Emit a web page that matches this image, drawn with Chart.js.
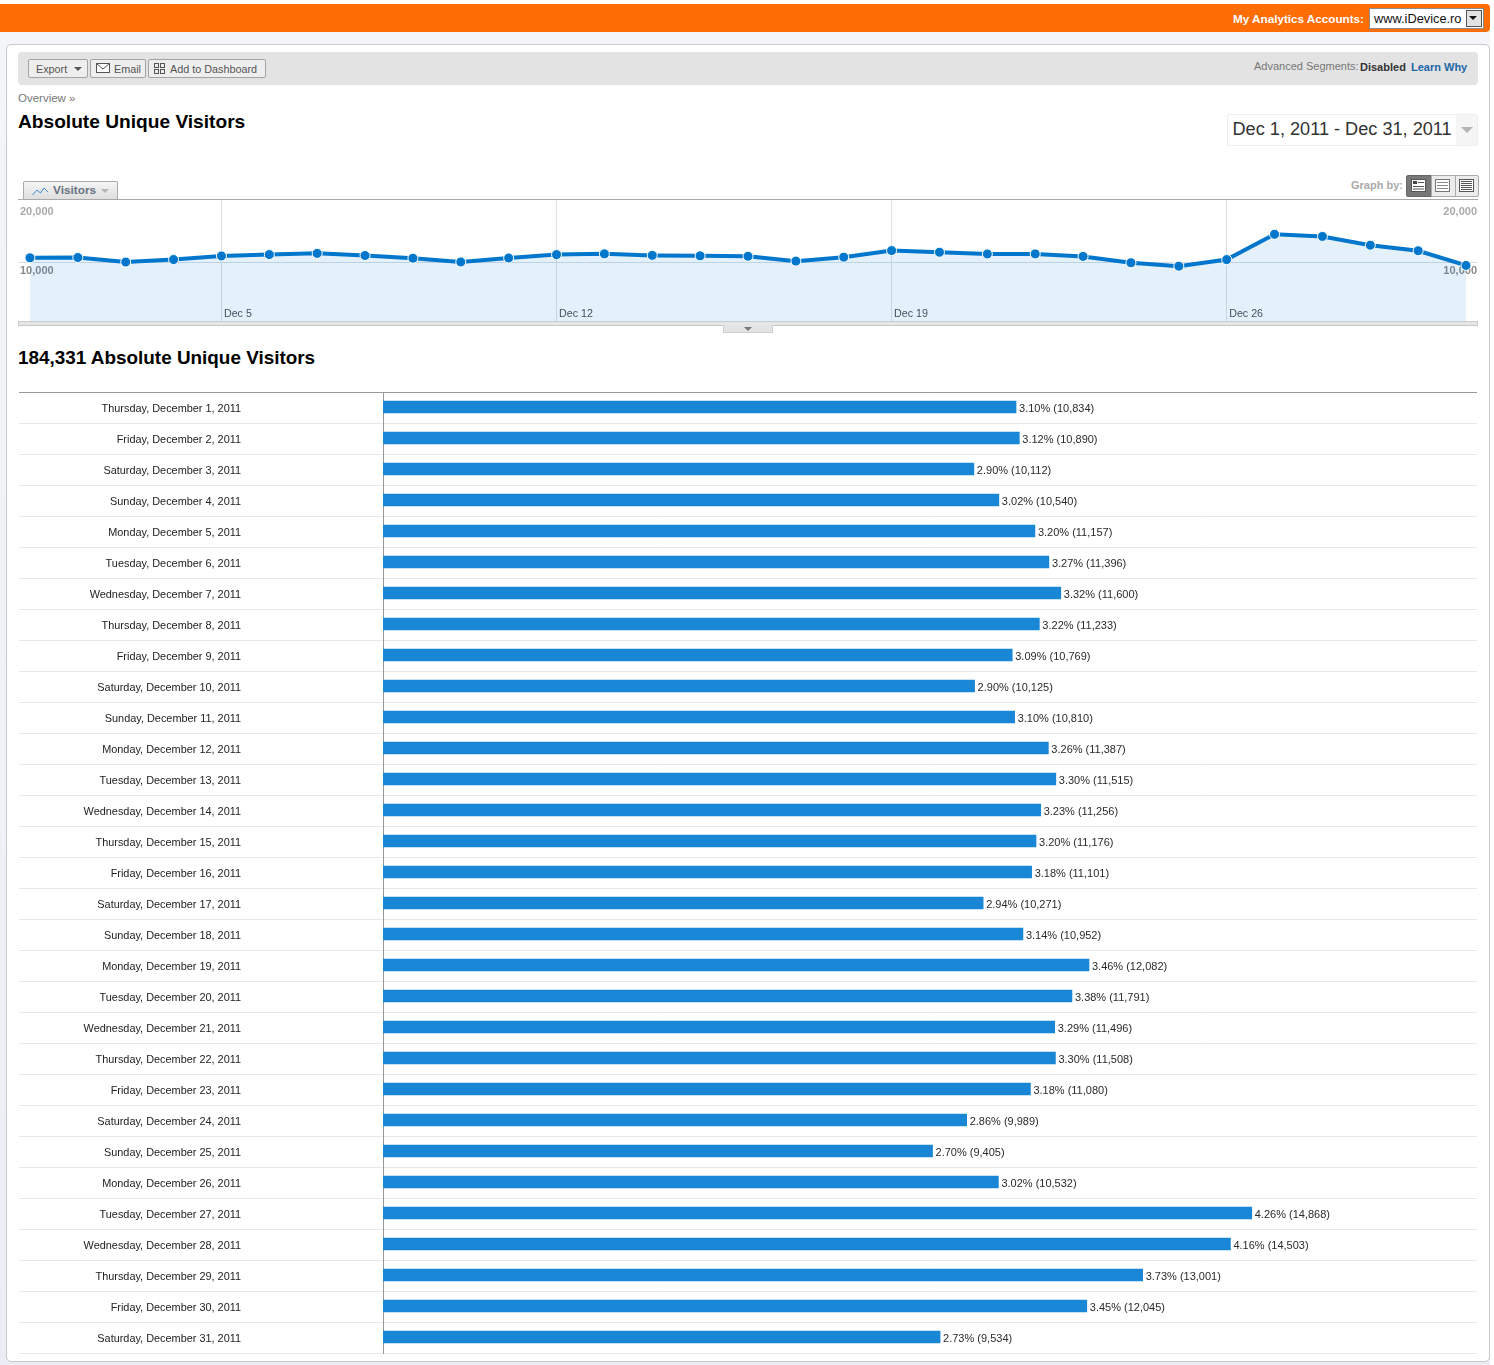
<!DOCTYPE html>
<html>
<head>
<meta charset="utf-8">
<title>Absolute Unique Visitors</title>
<script src="https://cdn.jsdelivr.net/npm/chart.js@4/dist/chart.umd.min.js"></script>
<style>
  html, body { margin: 0; padding: 0; }
  body { position: relative; width: 1494px; height: 1365px; overflow: hidden; background: #fff;
         font-family: "Liberation Sans", Arial, sans-serif; }
  .abs { position: absolute; white-space: nowrap; }
  canvas { position: absolute; display: block; }
  #backdrop { left: 0; top: 32px; width: 1490px; height: 1333px;
              background: linear-gradient(#f4f5f8, #eaeef4); }
  #topbar { left: 0; top: 4px; width: 1490px; height: 28px; background: #ff6d05; border-radius: 0 4px 4px 0; }
  #card { left: 6px; top: 44px; width: 1482px; height: 1316px; background: #fff;
          border: 1px solid #c6c8cc; border-radius: 5px; }
  #toolbar { left: 18px; top: 52px; width: 1460px; height: 33px; background: #e3e3e3; border-radius: 4px; }
  .btn { top: 59px; height: 17px; border: 1px solid #a3a3a3; border-radius: 2px; background: #eeeeee;
         font-size: 10.8px; line-height: 19px; color: #555; box-sizing: content-box; }
  .arrow { width: 0; height: 0; border-left: 4px solid transparent; border-right: 4px solid transparent; }
  #handle { left: 723px; top: 325px; width: 48px; height: 7px; background: #e4e4e4;
            border: 1px solid #cfcfcf; border-top: 0; }
  #axisband { left: 18px; top: 321px; width: 1458px; height: 3px; background: #e6e6e6;
              border: 1px solid #c8c8c8; border-top-color: #cccccc; }
</style>
</head>
<body>
<div class="abs" id="backdrop"></div>
<div class="abs" id="topbar"></div>
<div class="abs" style="right:130px;top:12px;font-size:11.7px;font-weight:bold;color:#fff;line-height:14px;">My Analytics Accounts:</div>
<div class="abs" style="left:1369px;top:8px;width:113px;height:19px;background:#fff;border:1px solid #8a8a8a;"></div>
<div class="abs" style="left:1374px;top:10px;font-size:12.8px;line-height:17px;color:#111;">www.iDevice.ro</div>
<div class="abs" style="left:1466px;top:10px;width:14px;height:15px;background:#e2e2e2;border:1px solid #555;"></div>
<div class="abs arrow" style="left:1469px;top:16px;border-top:4px solid #111;"></div>

<div class="abs" id="card"></div>
<div class="abs" id="toolbar"></div>

<div class="abs btn" style="left:28px;width:58px;"><span style="margin-left:7px;">Export</span></div>
<div class="abs arrow" style="left:74px;top:67px;border-top:4px solid #555;"></div>
<div class="abs btn" style="left:90px;width:54px;"><span style="margin-left:23px;">Email</span></div>
<svg class="abs" style="left:96px;top:63px;" width="14" height="10"><rect x="0.5" y="0.5" width="13" height="9" fill="#fff" stroke="#555"/><path d="M1 1 L7 6 L13 1" fill="none" stroke="#555"/></svg>
<div class="abs btn" style="left:148px;width:116px;"><span style="margin-left:21px;">Add to Dashboard</span></div>
<svg class="abs" style="left:154px;top:63px;" width="11" height="11"><g fill="none" stroke="#555"><rect x="0.5" y="0.5" width="4" height="4"/><rect x="6.5" y="0.5" width="4" height="4"/><rect x="0.5" y="6.5" width="4" height="4"/><rect x="6.5" y="6.5" width="4" height="4"/></g></svg>

<div class="abs" style="left:1254px;top:60px;font-size:11px;line-height:13px;color:#777;">Advanced Segments:</div>
<div class="abs" style="left:1360px;top:61px;font-size:11px;line-height:13px;font-weight:bold;color:#333;">Disabled</div>
<div class="abs" style="left:1411px;top:61px;font-size:11px;line-height:13px;font-weight:bold;color:#1b66a8;">Learn Why</div>

<div class="abs" style="left:18px;top:92px;font-size:11.5px;line-height:13px;color:#777;">Overview »</div>
<div class="abs" style="left:18px;top:110px;font-size:19.15px;line-height:23px;font-weight:bold;color:#000;">Absolute Unique Visitors</div>

<div class="abs" style="left:1227px;top:114px;width:249px;height:30px;border:1px solid #eeeeee;border-radius:2px;"></div>
<div class="abs" style="left:1456px;top:115px;width:21px;height:30px;background:#f5f5f5;"></div>
<div class="abs arrow" style="left:1461px;top:127px;border-left-width:6px;border-right-width:6px;border-top:6px solid #b5b5b5;"></div>
<div class="abs" style="left:1232.5px;top:119px;font-size:18.15px;line-height:21px;color:#333;">Dec 1, 2011 - Dec 31, 2011</div>

<div class="abs" style="left:1351px;top:179px;font-size:11px;line-height:13px;font-weight:bold;color:#aaa;">Graph by:</div>
<div class="abs" style="left:1406px;top:175px;width:24px;height:20px;background:#777;border:1px solid #666;border-radius:2px 0 0 2px;"></div>
<div class="abs" style="left:1431px;top:175px;width:23px;height:20px;background:#ececec;border:1px solid #aaa;"></div>
<div class="abs" style="left:1455px;top:175px;width:22px;height:20px;background:#ececec;border:1px solid #aaa;border-radius:0 2px 2px 0;"></div>
<svg class="abs" style="left:1411px;top:179px;" width="15" height="13"><rect x="0.5" y="0.5" width="14" height="12" fill="#fff" stroke="#555"/><rect x="2" y="2" width="4" height="3" fill="#444"/><path d="M7 3.5H13M2 7.5H13M2 10H13" stroke="#555"/></svg>
<svg class="abs" style="left:1435px;top:179px;" width="15" height="13"><rect x="0.5" y="0.5" width="14" height="12" fill="#fff" stroke="#777"/><path d="M2 3.5H13M2 6.5H13M2 9.5H13" stroke="#888"/></svg>
<svg class="abs" style="left:1459px;top:179px;" width="15" height="13"><rect x="0.5" y="0.5" width="14" height="12" fill="#fff" stroke="#555"/><path d="M2 2.5H13M2 4.5H13M2 6.5H13M2 8.5H13M2 10.5H13" stroke="#555"/></svg>

<div class="abs" style="left:23px;top:181px;width:93px;height:18px;border:1px solid #aaa;border-bottom:0;border-radius:2px 2px 0 0;background:linear-gradient(#f5f5f5,#dddddd);"></div>
<svg class="abs" style="left:32px;top:186px;" width="17" height="10"><path d="M0.5 9 L5 4 L8.5 7 L12 2 L16 6" fill="none" stroke="#3b8bd8" stroke-width="1"/></svg>
<div class="abs" style="left:53px;top:184px;font-size:11.8px;line-height:13px;font-weight:bold;color:#667080;">Visitors</div>
<div class="abs arrow" style="left:101px;top:189px;border-top:4px solid #b5b5b5;"></div>
<div class="abs" style="left:18px;top:199px;width:1460px;height:1px;background:#a8a8a8;"></div>

<canvas id="trend" width="1460" height="121" style="left:18px;top:200px;"></canvas>
<div class="abs" id="axisband"></div>
<div class="abs" id="handle"></div>
<div class="abs arrow" style="left:744px;top:327px;border-top:4px solid #777;"></div>

<div class="abs" style="left:18px;top:346px;font-size:18.9px;line-height:23px;font-weight:bold;color:#000;">184,331 Absolute Unique Visitors</div>

<canvas id="daily" width="1459" height="962" style="left:18px;top:392px;"></canvas>

<script>
// Daily absolute unique visitors for December 2011
const dayLabels = [
  "Thursday, December 1, 2011", "Friday, December 2, 2011", "Saturday, December 3, 2011",
  "Sunday, December 4, 2011", "Monday, December 5, 2011", "Tuesday, December 6, 2011",
  "Wednesday, December 7, 2011", "Thursday, December 8, 2011", "Friday, December 9, 2011",
  "Saturday, December 10, 2011", "Sunday, December 11, 2011", "Monday, December 12, 2011",
  "Tuesday, December 13, 2011", "Wednesday, December 14, 2011", "Thursday, December 15, 2011",
  "Friday, December 16, 2011", "Saturday, December 17, 2011", "Sunday, December 18, 2011",
  "Monday, December 19, 2011", "Tuesday, December 20, 2011", "Wednesday, December 21, 2011",
  "Thursday, December 22, 2011", "Friday, December 23, 2011", "Saturday, December 24, 2011",
  "Sunday, December 25, 2011", "Monday, December 26, 2011", "Tuesday, December 27, 2011",
  "Wednesday, December 28, 2011", "Thursday, December 29, 2011", "Friday, December 30, 2011",
  "Saturday, December 31, 2011"
];
const visitors = [
  10834, 10890, 10112, 10540, 11157, 11396, 11600, 11233, 10769, 10125, 10810,
  11387, 11515, 11256, 11176, 11101, 10271, 10952, 12082, 11791, 11496, 11508,
  11080, 9989, 9405, 10532, 14868, 14503, 13001, 12045, 9534
];
const shares = [
  "3.10", "3.12", "2.90", "3.02", "3.20", "3.27", "3.32", "3.22", "3.09", "2.90", "3.10",
  "3.26", "3.30", "3.23", "3.20", "3.18", "2.94", "3.14", "3.46", "3.38", "3.29", "3.30",
  "3.18", "2.86", "2.70", "3.02", "4.26", "4.16", "3.73", "3.45", "2.73"
];
const weekTickDays = [4, 11, 18, 25];
const weekTickLabels = ["Dec 5", "Dec 12", "Dec 19", "Dec 26"];
const visitorTicks = [10000, 20000];

const FONT = '"Liberation Sans", Arial, sans-serif';

// Tick labels sit inside the plot, so axes must not reserve any room for them
const noInset = s => {
  s.paddingLeft = s.paddingRight = s.paddingTop = s.paddingBottom = 0;
};

// Overview sparkline: area under a thick line, with labels sitting inside the plot
const yAxisCommon = {
  min: 0,
  max: 20755,
  afterBuildTicks: s => { s.ticks = visitorTicks.map(value => ({ value })); },
  afterFit: s => { s.width = 0; noInset(s); },
  border: { display: false }
};
const yTickCommon = {
  mirror: true,
  padding: 2,
  labelOffset: 8,
  color: ctx => ctx.tick.value === 10000 ? '#8a8a8a' : '#aaaaaa',
  font: { family: FONT, size: 11, weight: 'bold' },
  callback: v => v.toLocaleString('en-US')
};

new Chart(document.getElementById('trend'), {
  type: 'line',
  data: {
    datasets: [{
      label: 'Visitors',
      data: visitors.map((v, i) => ({ x: i, y: v })),
      borderColor: '#0077cc',
      borderWidth: 4,
      backgroundColor: 'rgba(0,119,204,0.105)',
      fill: 'origin',
      tension: 0,
      pointRadius: 5,
      pointBackgroundColor: '#0077cc',
      pointBorderColor: '#ffffff',
      pointBorderWidth: 1,
      clip: false
    }]
  },
  options: {
    responsive: false,
    animation: false,
    layout: { padding: 0, autoPadding: false },
    plugins: { legend: { display: false }, tooltip: { enabled: false } },
    scales: {
      x: {
        type: 'linear',
        position: { y: 0 },
        min: -0.25,
        max: 30.25,
        afterBuildTicks: s => { s.ticks = weekTickDays.map(value => ({ value })); },
        afterFit: s => { s.height = 0; noInset(s); },
        border: { display: false },
        grid: { color: '#dbe1e6', drawTicks: false },
        ticks: {
          align: 'start',
          padding: -13,
          labelOffset: 2.5,
          maxRotation: 0,
          autoSkip: false,
          color: '#4a4d4f',
          font: { family: FONT, size: 10.7 },
          callback: v => weekTickLabels[weekTickDays.indexOf(v)]
        }
      },
      y: {
        ...yAxisCommon,
        position: 'left',
        ticks: yTickCommon,
        grid: { drawTicks: false, color: ctx => ctx.tick.value === 10000 ? '#d2dde5' : 'transparent' }
      },
      yRight: {
        ...yAxisCommon,
        position: 'right',
        ticks: { ...yTickCommon, padding: -1 },
        grid: { display: false }
      }
    }
  }
});

// Keeps bar edges on whole pixels, since rows are an odd number of pixels tall
const snapBars = {
  id: 'snapBars',
  afterDatasetUpdate(chart) {
    chart.getDatasetMeta(0).data.forEach(bar => { bar.y = Math.floor(bar.y); });
  }
};

// Writes "share% (visitors)" just past the end of each bar
const barValueLabels = {
  id: 'barValueLabels',
  afterDatasetsDraw(chart) {
    const { ctx } = chart;
    const bars = chart.getDatasetMeta(0).data;
    ctx.save();
    ctx.font = '11px ' + FONT;
    ctx.fillStyle = '#2a2a2a';
    ctx.textAlign = 'left';
    ctx.textBaseline = 'middle';
    bars.forEach((bar, i) => {
      ctx.fillText(shares[i] + '% (' + visitors[i].toLocaleString('en-US') + ')', bar.x + 3, bar.y + 1.5);
    });
    ctx.restore();
  }
};

const rowLineColor = ctx => ctx.index === 0 ? '#999999' : '#e9e9e9';

new Chart(document.getElementById('daily'), {
  type: 'bar',
  data: {
    labels: dayLabels,
    datasets: [{
      label: 'Absolute Unique Visitors',
      data: visitors,
      backgroundColor: '#1a87d6',
      barThickness: 12,
      borderSkipped: false
    }]
  },
  plugins: [snapBars, barValueLabels],
  options: {
    indexAxis: 'y',
    responsive: false,
    animation: false,
    layout: { padding: { bottom: 1 }, autoPadding: false },
    plugins: { legend: { display: false }, tooltip: { enabled: false } },
    scales: {
      x: { display: false, min: 0, max: 18723 },
      y: {
        afterFit: s => { s.width = 365; },
        border: { color: '#999999', width: 1 },
        grid: { color: rowLineColor, tickColor: rowLineColor, tickLength: 364, offset: true },
        ticks: {
          padding: -222,
          labelOffset: 1,
          autoSkip: false,
          color: '#222222',
          font: { family: FONT, size: 10.9 }
        }
      }
    }
  }
});
</script>
</body>
</html>
